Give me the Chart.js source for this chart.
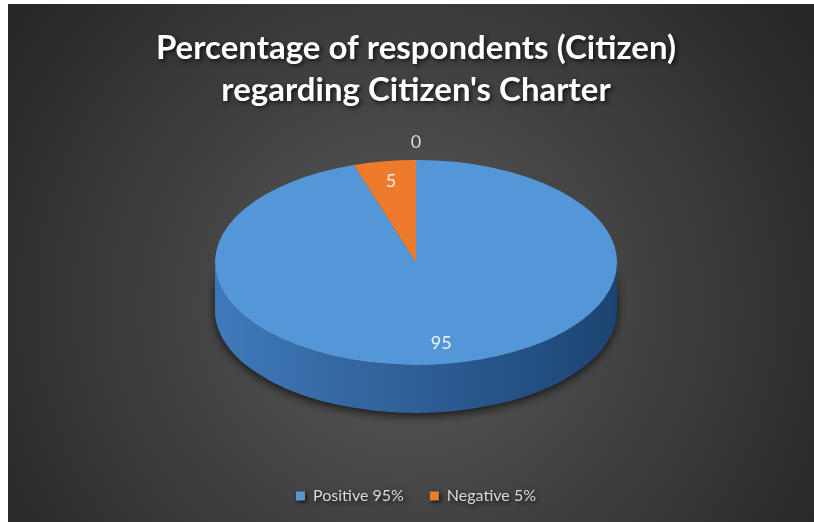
<!DOCTYPE html>
<html>
<head>
<meta charset="utf-8">
<script src="https://cdn.jsdelivr.net/npm/chart.js@4.4.0/dist/chart.umd.min.js"></script>
<style>
  html, body { margin: 0; padding: 0; background: #fff; }
  canvas { display: block; }
</style>
</head>
<body>
<canvas id="pie" width="814" height="522"></canvas>
<script>
const categories = ['Positive 95%', 'Negative 5%', '']
const values = [95, 5, 0]
const titleLines = ['Percentage of respondents (Citizen)', "regarding Citizen's Charter"]

const topColors = ['#5497d8', '#ee7b2c', '#a5a5a5']
const sideLight = ['#4079ba', '#c0601f', '#888888']
const sideDark = ['#1c4473', '#8a3f10', '#555555']

// how flat the disc looks and how thick it is
const tilt = 0.51
const depth = 48

const background = {
  id: 'background',
  beforeDraw(chart) {
    const ctx = chart.ctx
    const w = chart.width, h = chart.height
    ctx.save()
    ctx.fillStyle = '#fff'
    ctx.fillRect(0, 0, w, h)
    const g = ctx.createRadialGradient(w / 2, h * 0.58, 0, w / 2, h * 0.58, w * 0.6)
    g.addColorStop(0, '#5a5a5a')
    g.addColorStop(1, '#262626')
    ctx.fillStyle = g
    ctx.fillRect(8, 4, w - 8, h - 4)
    ctx.restore()
    // text shadow for title + legend, dropped again before the pie
    ctx.save()
    ctx.shadowColor = 'rgba(0,0,0,0.7)'
    ctx.shadowBlur = 4
    ctx.shadowOffsetX = 2
    ctx.shadowOffsetY = 2
  },
  beforeDatasetsDraw(chart) {
    chart.ctx.restore()
  }
}

const pie3d = {
  id: 'pie3d',
  beforeDatasetsDraw(chart) {
    const ctx = chart.ctx
    const arcs = chart.getDatasetMeta(0).data
    const cx = arcs[0].x, cy = arcs[0].y
    const top = cy - depth / 2

    // side wall, only the front half (0..PI) can be seen
    ctx.save()
    ctx.shadowColor = 'rgba(0,0,0,0.7)'
    ctx.shadowBlur = 10
    ctx.shadowOffsetY = 3
    arcs.forEach((arc, i) => {
      const r = arc.outerRadius
      for (let turn = -2 * Math.PI; turn <= 2 * Math.PI; turn += 2 * Math.PI) {
        const a0 = Math.max(arc.startAngle + turn, 0)
        const a1 = Math.min(arc.endAngle + turn, Math.PI)
        if (a1 <= a0) continue
        const g = ctx.createLinearGradient(cx - r, 0, cx + r, 0)
        g.addColorStop(0, sideLight[i])
        g.addColorStop(1, sideDark[i])
        ctx.fillStyle = g
        ctx.beginPath()
        ctx.ellipse(cx, top, r, r * tilt, 0, a0, a1)
        ctx.ellipse(cx, top + depth, r, r * tilt, 0, a1, a0, true)
        ctx.closePath()
        ctx.fill()
      }
    })
    ctx.restore()

    // squash the top face
    ctx.save()
    ctx.translate(cx, top)
    ctx.scale(1, tilt)
    ctx.translate(-cx, -cy)
  },
  afterDatasetsDraw(chart) {
    const ctx = chart.ctx
    ctx.restore()
    const arcs = chart.getDatasetMeta(0).data
    const cx = arcs[0].x, top = arcs[0].y - depth / 2
    ctx.save()
    ctx.font = '18px Lato'
    ctx.textAlign = 'center'
    ctx.textBaseline = 'middle'
    arcs.forEach((arc, i) => {
      const mid = (arc.startAngle + arc.endAngle) / 2
      const rr = values[i] > 0 ? arc.outerRadius * 0.8 : arc.outerRadius * 1.17
      ctx.fillStyle = values[i] > 0 ? '#f2f2f2' : '#d9d9d9'
      ctx.fillText(String(values[i]), cx + rr * Math.cos(mid), top + tilt * rr * Math.sin(mid))
    })
    ctx.restore()
  }
}

new Chart('pie', {
  type: 'pie',
  data: {
    labels: categories,
    datasets: [{
      data: values,
      backgroundColor: topColors,
      borderWidth: 0,
      radius: 201,
      clip: false
    }]
  },
  options: {
    responsive: false,
    animation: false,
    events: [],
    layout: { padding: { left: 18, bottom: 8 } },
    plugins: {
      title: {
        display: true,
        text: titleLines,
        color: '#ffffff',
        font: { family: 'Lato', size: 33, weight: 'bold', lineHeight: 1.27 },
        padding: { top: 27, bottom: 0 }
      },
      legend: {
        position: 'bottom',
        labels: {
          color: '#d9d9d9',
          font: { family: 'Lato', size: 16 },
          boxWidth: 9,
          boxHeight: 9,
          padding: 26,
          filter: item => item.text !== ''
        }
      },
      tooltip: { enabled: false }
    }
  },
  plugins: [background, pie3d]
})
</script>
</body>
</html>
